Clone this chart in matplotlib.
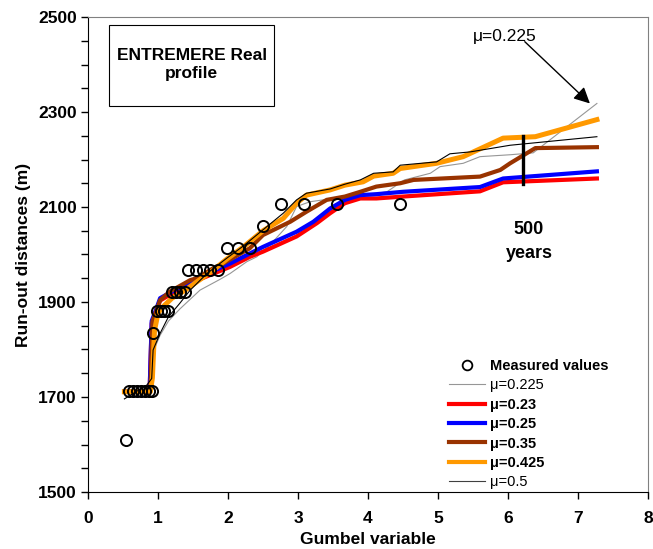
import matplotlib
matplotlib.use("Agg")
import matplotlib.pyplot as plt
from matplotlib.patches import Rectangle
from matplotlib.lines import Line2D

plt.rcParams.update({
    "font.family": ["Liberation Sans", "DejaVu Sans"],
    "font.size": 12,
})

# ---- data ----------------------------------------------------------------
meas_x = [0.54, 0.59, 0.64, 0.70, 0.76, 0.81, 0.87, 0.91, 0.93, 0.99, 1.04,
          1.09, 1.14, 1.20, 1.26, 1.32, 1.38, 1.43, 1.54, 1.64, 1.74, 1.86,
          1.99, 2.14, 2.31, 2.50, 2.76, 3.09, 3.56, 4.45]
meas_y = [1610, 1712, 1712, 1712, 1712, 1712, 1712, 1712, 1835, 1880, 1880,
          1880, 1880, 1922, 1922, 1922, 1922, 1967, 1967, 1967, 1967, 1967,
          2013, 2013, 2013, 2060, 2106, 2106, 2106, 2106]

mu0225_x = [0.55, 0.84, 0.91, 0.93, 1.03, 1.15, 1.31, 1.60, 1.89, 2.03, 2.27,
            2.41, 2.60, 2.84, 2.98, 3.17, 3.50, 3.90, 4.27, 4.52, 4.89, 5.03,
            5.36, 5.60, 6.03, 6.36, 7.27]
mu0225_y = [1700, 1722, 1735, 1795, 1830, 1860, 1885, 1925, 1948, 1960, 1985,
            1995, 2020, 2059, 2101, 2111, 2118, 2124, 2132, 2157, 2171, 2185,
            2192, 2206, 2210, 2214, 2318]

mu023_x = [0.52, 0.88, 0.91, 0.97, 1.03, 1.20, 1.55, 2.03, 2.31, 2.50, 2.98,
           3.27, 3.46, 3.67, 3.89, 4.12, 4.50, 5.60, 5.93, 7.27]
mu023_y = [1711, 1711, 1855, 1880, 1903, 1918, 1945, 1974, 1995, 2006, 2038,
           2066, 2087, 2108, 2118, 2118, 2122, 2133, 2152, 2160]

mu025_x = [0.52, 0.88, 0.91, 0.97, 1.03, 1.20, 1.55, 2.03, 2.31, 2.50, 2.98,
           3.22, 3.46, 3.67, 3.89, 4.12, 4.50, 5.60, 5.93, 7.27]
mu025_y = [1711, 1711, 1860, 1883, 1908, 1922, 1950, 1981, 2002, 2016, 2048,
           2069, 2097, 2115, 2125, 2127, 2132, 2142, 2160, 2175]

mu035_x = [0.52, 0.89, 0.92, 0.98, 1.03, 1.17, 1.46, 1.55, 1.79, 1.93, 2.31,
           2.50, 2.89, 3.12, 3.41, 3.67, 3.89, 4.12, 4.46, 4.65, 5.60, 5.89,
           6.03, 6.39, 7.27]
mu035_y = [1711, 1711, 1859, 1883, 1904, 1922, 1946, 1950, 1971, 1981, 2013,
           2041, 2069, 2090, 2115, 2122, 2132, 2143, 2150, 2157, 2164, 2178,
           2192, 2224, 2226]

mu0425_x = [0.52, 0.89, 0.92, 0.95, 1.00, 1.05, 1.20, 1.39, 1.55, 1.79, 1.98,
            2.22, 2.50, 2.79, 2.98, 3.12, 3.46, 3.67, 3.93, 4.08, 4.36, 4.46,
            4.98, 5.36, 5.93, 6.39, 7.27]
mu0425_y = [1711, 1711, 1740, 1840, 1876, 1887, 1908, 1925, 1942, 1967, 1990,
            2016, 2050, 2076, 2108, 2125, 2136, 2146, 2153, 2165, 2171, 2181,
            2192, 2206, 2245, 2248, 2284]

mu05_x = [0.52, 0.84, 0.91, 0.93, 1.03, 1.15, 1.31, 1.46, 1.70, 1.98, 2.22,
          2.50, 2.79, 2.98, 3.12, 3.46, 3.67, 3.89, 4.08, 4.36, 4.46, 4.98,
          5.17, 5.46, 6.03, 7.27]
mu05_y = [1696, 1725, 1739, 1799, 1834, 1869, 1897, 1925, 1960, 1992, 2018,
          2052, 2087, 2115, 2129, 2138, 2148, 2157, 2171, 2174, 2188, 2195,
          2212, 2216, 2230, 2248]

bar_x = 6.21
bar_y = [2148, 2250]

# ---- figure ----------------------------------------------------------------
fig = plt.figure(figsize=(6.53, 5.49), dpi=100)
ax = fig.add_axes([88 / 653, 57 / 549, 560 / 653, 475 / 549])

ax.plot(mu0225_x, mu0225_y, color="#969696", lw=0.8, zorder=3)
ax.plot(mu023_x, mu023_y, color="#FF0000", lw=3.0, zorder=3)
ax.plot(mu025_x, mu025_y, color="#0000FF", lw=3.0, zorder=3)
ax.plot(mu035_x, mu035_y, color="#993300", lw=3.0, zorder=3)
ax.plot(mu0425_x, mu0425_y, color="#FF9900", lw=3.6, zorder=3)
ax.plot(mu05_x, mu05_y, color="black", lw=0.8, zorder=4)
ax.plot(meas_x, meas_y, linestyle="none", marker="o", markersize=8,
        markerfacecolor="none", markeredgecolor="black", markeredgewidth=1.4,
        zorder=5)

# 500-year marker
ax.plot([bar_x, bar_x], bar_y, color="black", lw=2.4, zorder=6)
ax.text(6.3, 2052, "500", ha="center", va="center", fontsize=13,
        fontweight="bold")
ax.text(6.3, 2003, "years", ha="center", va="center", fontsize=13,
        fontweight="bold")

# annotation for mu=0.225
ax.text(5.96, 2459, "\u03bc=0.225", ha="center", va="center", fontsize=12.5)
ax.annotate("", xy=(7.17, 2318), xytext=(6.24, 2448),
            arrowprops=dict(arrowstyle="-|>", color="black", lw=1.0,
                            mutation_scale=24, shrinkA=0, shrinkB=0))

# title box
ax.add_patch(Rectangle((0.038, 0.8126), 0.294, 0.1704, transform=ax.transAxes,
                       facecolor="white", edgecolor="black", lw=0.8, zorder=7))
ax.text(0.185, 0.899, "ENTREMERE Real\nprofile", transform=ax.transAxes,
        ha="center", va="center", fontsize=12.5, fontweight="bold",
        linespacing=1.25, zorder=8)

# axes styling
ax.set_xlim(0, 8)
ax.set_ylim(1500, 2500)
ax.set_xticks(range(0, 9))
ax.set_yticks([1500, 1700, 1900, 2100, 2300, 2500])
ax.set_yticks(range(1500, 2501, 50), minor=True)
ax.tick_params(axis="both", which="both", direction="out", length=5,
               width=1, labelsize=12.5)
ax.tick_params(axis="x", pad=9)
ax.tick_params(axis="y", pad=3)
for lab in ax.get_xticklabels() + ax.get_yticklabels():
    lab.set_fontweight("bold")
for s in ("top", "right"):
    ax.spines[s].set_color("#808080")
for s in ("left", "bottom"):
    ax.spines[s].set_color("black")
ax.set_xlabel("Gumbel variable", fontsize=12.5, fontweight="bold", labelpad=4)
ax.set_ylabel("Run-out distances (m)", fontsize=12.5, fontweight="bold",
              labelpad=5)

# legend
handles = [
    Line2D([0], [0], linestyle="none", marker="o", markersize=7,
           markerfacecolor="none", markeredgecolor="black",
           markeredgewidth=1.3),
    Line2D([0], [0], color="#969696", lw=0.8),
    Line2D([0], [0], color="#FF0000", lw=3.0),
    Line2D([0], [0], color="#0000FF", lw=3.0),
    Line2D([0], [0], color="#993300", lw=3.0),
    Line2D([0], [0], color="#FF9900", lw=3.0),
    Line2D([0], [0], color="#404040", lw=0.8),
]
labels = ["Measured values", "\u03bc=0.225", "\u03bc=0.23", "\u03bc=0.25",
          "\u03bc=0.35", "\u03bc=0.425", "\u03bc=0.5"]
leg = ax.legend(handles, labels, loc="upper left",
                bbox_to_anchor=(449 / 653, (549 - 359) / 549),
                bbox_transform=fig.transFigure, frameon=False, fontsize=10.5,
                handlelength=2.5, handletextpad=0.3, labelspacing=0.37,
                borderpad=0, borderaxespad=0)
for i, t in enumerate(leg.get_texts()):
    if i in (0, 2, 3, 4, 5):
        t.set_fontweight("bold")

fig.savefig("out.png", dpi=100)
